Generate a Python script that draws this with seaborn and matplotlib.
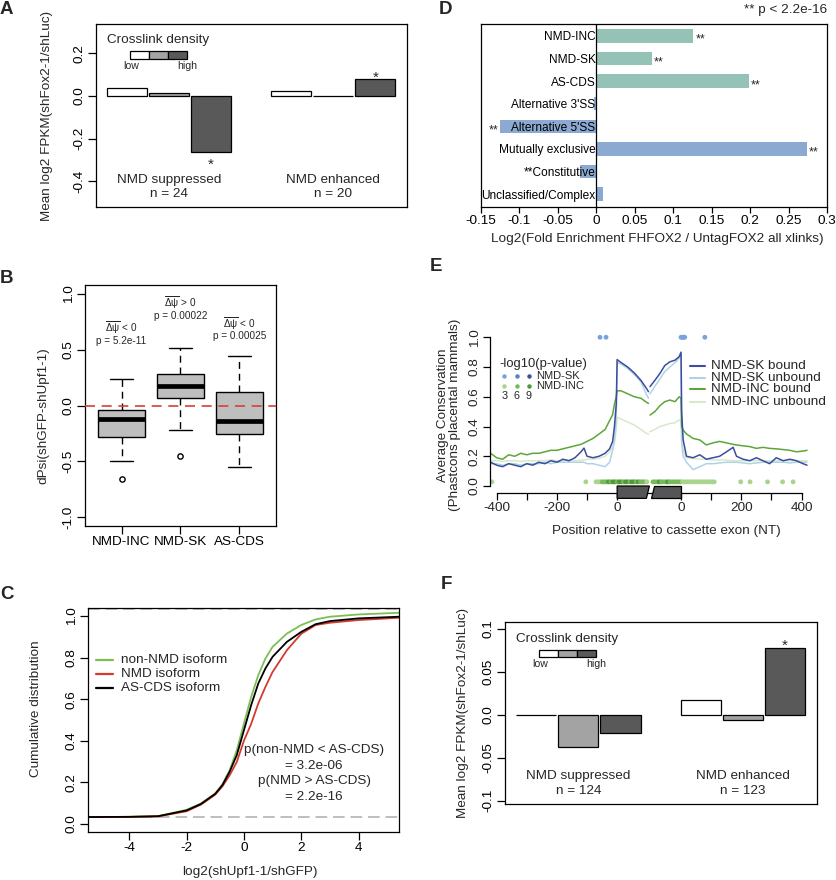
import numpy as np
import pandas as pd
import matplotlib
matplotlib.use("Agg")
import matplotlib.pyplot as plt
import seaborn as sns
from matplotlib.patches import Rectangle, Polygon
from matplotlib.lines import Line2D

# ------------------------------------------------------------------ data
density_levels = ["low", "mid", "high"]
density_colors = ["#ffffff", "#a3a3a3", "#595959"]
nmd_groups = ["NMD suppressed", "NMD enhanced"]

# Panel A
a_n = [24, 20]
a_suppressed = [0.039, 0.0125, -0.2625]
a_enhanced = [0.023, 0.002, 0.078]
a_star = [False, False, True, False, False, True]
a_yticks = [-0.4, -0.2, 0.0, 0.2]
a_yticklabels = ["-0.4", "-0.2", "0.0", "0.2"]

# Panel F
f_n = [124, 123]
f_suppressed = [0.0, -0.038, -0.0213]
f_enhanced = [0.0174, -0.0062, 0.078]
f_star = [False, False, False, False, False, True]
f_yticks = [-0.1, -0.05, 0.0, 0.05, 0.1]
f_yticklabels = ["-0.1", "-0.05", "0.0", "0.05", "0.1"]

# Panel D
d_categories = ["NMD-INC", "NMD-SK", "AS-CDS", "Alternative 3'SS",
                "Alternative 5'SS", "Mutually exclusive", "**Constitutive",
                "Unclassified/Complex"]
d_values = [0.126, 0.0725, 0.198, -0.0035, -0.125, 0.274, -0.0217, 0.0087]
d_class = ["NMD", "NMD", "NMD", "AS", "AS", "AS", "AS", "AS"]
d_star = [True, True, True, False, True, True, False, False]
d_xticks = [-0.15, -0.1, -0.05, 0, 0.05, 0.1, 0.15, 0.2, 0.25, 0.3]
d_xticklabels = ["-0.15", "-0.1", "-0.05", "0", "0.05", "0.1", "0.15", "0.2", "0.25", "0.3"]

# Panel B (box statistics)
b_categories = ["NMD-INC", "NMD-SK", "AS-CDS"]
b_whislo = [-0.50, -0.223, -0.552]
b_q1 = [-0.283, 0.067, -0.253]
b_med = [-0.121, 0.172, -0.142]
b_q3 = [-0.04, 0.28, 0.124]
b_whishi = [0.238, 0.519, 0.447]
b_outliers = [[-0.659], [-0.45], []]
b_direction = ["<", ">", "<"]
b_pvalues = ["5.2e-11", "0.00022", "0.00025"]
b_yticks = [-1.0, -0.5, 0.0, 0.5, 1.0]
b_yticklabels = ["-1.0", "-0.5", "0.0", "0.5", "1.0"]

# Panel C (cumulative distributions)
c_x = [-5.44, -4, -3, -2, -1.5, -1, -0.75, -0.5, -0.25, 0, 0.25, 0.5, 0.75,
       1, 1.5, 2, 2.5, 3, 4, 5.41]
c_non_nmd = [0.032, 0.033, 0.036, 0.067, 0.097, 0.146, 0.19, 0.257, 0.354, 0.482,
             0.61, 0.715, 0.796, 0.852, 0.916, 0.957, 0.984, 0.997, 1.008, 1.016]
c_nmd = [0.032, 0.033, 0.035, 0.06, 0.092, 0.14, 0.18, 0.233, 0.297, 0.40,
         0.48, 0.579, 0.659, 0.731, 0.836, 0.915, 0.957, 0.968, 0.981, 0.992]
c_as_cds = [0.032, 0.033, 0.036, 0.064, 0.095, 0.144, 0.186, 0.25, 0.33, 0.45,
            0.57, 0.675, 0.748, 0.804, 0.876, 0.924, 0.961, 0.976, 0.989, 0.997]
c_series = ["non-NMD isoform", "NMD isoform", "AS-CDS isoform"]
c_colors = ["#7dbf55", "#d33a2f", "#000000"]
c_ref_lines = [0.032, 1.034]
c_xticks = [-4, -2, 0, 2, 4]
c_yticks = [0.0, 0.2, 0.4, 0.6, 0.8, 1.0]
c_yticklabels = ["0.0", "0.2", "0.4", "0.6", "0.8", "1.0"]

# Panel E (conservation profiles; plotted x: upstream -420..0, exon 0..212, downstream 212+pos)
EXON_LEN = 212
e_pos_seg1 = [-420, -400, -380, -360, -340, -320, -300, -280, -260, -240, -220, -200,
              -180, -160, -140, -120, -110, -100, -80, -60, -40, -25, -15, -9, -3, 0,
              13, 35, 57, 79, 96, 104]
e_pos_seg2 = [109, 125, 142, 158, 175, 192, 206, 212, 214, 219, 230, 252, 274, 296, 318,
              340, 363, 385, 396, 418, 440, 462, 484, 506, 528, 551, 573, 595, 617, 630]
e_sk_bound_1 = [0.16, 0.14, 0.13, 0.15, 0.14, 0.13, 0.15, 0.14, 0.16, 0.15, 0.17, 0.16,
                0.18, 0.17, 0.19, 0.23, 0.255, 0.20, 0.19, 0.20, 0.22, 0.25, 0.30, 0.40,
                0.55, 0.85, 0.83, 0.80, 0.76, 0.71, 0.66, 0.634]
e_sk_bound_2 = [0.668, 0.71, 0.757, 0.81, 0.835, 0.846, 0.87, 0.90, 0.50, 0.31, 0.20, 0.19,
                0.21, 0.18, 0.19, 0.20, 0.23, 0.26, 0.20, 0.18, 0.17, 0.19, 0.17, 0.15,
                0.19, 0.17, 0.18, 0.17, 0.15, 0.14]
e_sk_unbound_1 = [0.15, 0.15, 0.14, 0.15, 0.15, 0.14, 0.15, 0.15, 0.15, 0.16, 0.15, 0.16,
                  0.16, 0.16, 0.16, 0.16, 0.16, 0.15, 0.15, 0.14, 0.13, 0.16, 0.24, 0.31,
                  0.45, 0.83, 0.82, 0.79, 0.75, 0.70, 0.62, 0.59]
e_sk_unbound_2 = [0.62, 0.67, 0.72, 0.77, 0.80, 0.83, 0.86, 0.87, 0.30, 0.20, 0.16, 0.11,
                  0.13, 0.15, 0.15, 0.155, 0.16, 0.16, 0.16, 0.155, 0.15, 0.155, 0.16, 0.16,
                  0.16, 0.16, 0.155, 0.16, 0.16, 0.16]
e_inc_bound_1 = [0.22, 0.19, 0.18, 0.21, 0.20, 0.22, 0.21, 0.22, 0.22, 0.23, 0.24, 0.24,
                 0.25, 0.26, 0.27, 0.28, 0.29, 0.30, 0.32, 0.35, 0.38, 0.44, 0.48, 0.55,
                 0.60, 0.64, 0.64, 0.62, 0.60, 0.59, 0.565, 0.555]
e_inc_bound_2 = [0.477, 0.50, 0.54, 0.567, 0.578, 0.567, 0.60, 0.59, 0.40, 0.376, 0.35, 0.32,
                 0.31, 0.276, 0.29, 0.30, 0.29, 0.28, 0.276, 0.27, 0.265, 0.253, 0.26, 0.253,
                 0.25, 0.245, 0.24, 0.23, 0.235, 0.24]
e_inc_unbound_1 = [0.17, 0.17, 0.165, 0.17, 0.17, 0.165, 0.17, 0.17, 0.17, 0.17, 0.175, 0.17,
                   0.17, 0.175, 0.17, 0.175, 0.175, 0.18, 0.18, 0.186, 0.20, 0.23, 0.26, 0.29,
                   0.38, 0.46, 0.45, 0.43, 0.41, 0.38, 0.355, 0.35]
e_inc_unbound_2 = [0.365, 0.38, 0.40, 0.41, 0.42, 0.425, 0.445, 0.44, 0.31, 0.24, 0.19, 0.185,
                   0.18, 0.18, 0.175, 0.175, 0.175, 0.17, 0.17, 0.17, 0.17, 0.17, 0.17, 0.17,
                   0.17, 0.17, 0.17, 0.17, 0.17, 0.17]
e_series = ["NMD-SK bound", "NMD-SK unbound", "NMD-INC bound", "NMD-INC unbound"]
e_colors = ["#3c4c9e", "#aed3e8", "#5ea53a", "#d9e8c8"]

# significance dots (-log10 p level 3/6/9)
e_sig_sk_pos = [-57, -37, 212, 216, 220, 224, 291]
e_sig_sk_level = [3, 3, 3, 3, 3, 3, 3]
e_sig_inc_pos = [-416, -104, -70, -63, -56, -49, -42, -35, -28, -21, -14, -7, 0, 7, 14, 21,
                 28, 35, 42, 49, 56, 63, 70, 77, 84, 91, 98, 119, 126, 133, 140, 147, 154,
                 161, 168, 175, 182, 189, 196, 203, 210, 217, 224, 231, 238, 245, 252, 259,
                 266, 273, 280, 287, 294, 301, 308, 315, 322, 410, 441, 499, 549, 584]
e_sig_inc_level = [3, 3, 3, 3, 3, 6, 6, 6, 9, 6, 9, 9, 6, 9, 9, 6, 9, 9, 6, 9, 9, 6, 9, 6,
                   6, 6, 3, 6, 6, 6, 9, 6, 6, 6, 9, 6, 6, 6, 6, 6, 6, 3, 3, 3, 3, 3, 3, 3,
                   3, 3, 3, 3, 3, 3, 3, 3, 3, 3, 3, 3, 3, 3]
sig_levels = [3, 6, 9]
sig_sk_colors = ["#78a2db", "#5b7ec4", "#3e5296"]
sig_inc_colors = ["#a8d48c", "#79b95b", "#4c9a37"]
e_xticks_labels = ["-400", "", "-200", "", "0", "0", "", "200", "", "400"]
e_yticks = [0.0, 0.2, 0.4, 0.6, 0.8, 1.0]
e_yticklabels = ["0.0", "0.2", "0.4", "0.6", "0.8", "1.0"]

# ------------------------------------------------------------------ style
sns.set_style("ticks")
plt.rcParams["font.family"] = ["Liberation Sans", "DejaVu Sans"]
plt.rcParams["mathtext.fontset"] = "custom"
plt.rcParams["mathtext.rm"] = "Liberation Sans"
plt.rcParams["mathtext.it"] = "Liberation Sans"
plt.rcParams["axes.linewidth"] = 0.9
plt.rcParams["axes.edgecolor"] = "black"

W, H = 837, 880
FS = 9.7
fig = plt.figure(figsize=(W / 100, H / 100), dpi=100)


def rect(l, t, r, b):
    return [l / W, 1 - b / H, (r - l) / W, (b - t) / H]


def fpt(x, y):
    return (x / W, 1 - y / H)


def r_style(ax):
    for s in ax.spines.values():
        s.set_linewidth(0.9)
        s.set_color("black")
        s.set_visible(True)
    ax.tick_params(direction="out", length=6, width=0.9, labelsize=FS, pad=1.5,
                   color="black", labelcolor="black")


def rotate_ylabels(ax):
    for lb in ax.get_yticklabels():
        lb.set_rotation(90)
        lb.set_va("center")
        lb.set_ha("right")


def panel_label(x, y, s):
    fig.text(*fpt(x, y), s, fontsize=13.5, fontweight="bold", ha="left", va="center")


def crosslink_key(l, t):
    fig.text(*fpt(l + 11.5, t + 16.5), "Crosslink density", ha="left", va="center", fontsize=FS)
    x0, y0, w, h = l + 33.5, t + 27.5, 19.2, 7.5
    for k, c in enumerate(density_colors):
        fig.add_artist(Rectangle(fpt(x0 + k * w, y0 + h), w / W, h / H,
                                 transform=fig.transFigure, fc=c, ec="black", lw=0.9))
    fig.text(*fpt(l + 35.5, t + 42), "low", ha="center", va="center", fontsize=7.6)
    fig.text(*fpt(l + 91, t + 42), "high", ha="center", va="center", fontsize=7.6)


def crosslink_panel(box, sup, enh, n, stars, ylim, yticks, yticklabels, text_y, ylabel_x):
    l, t, r, b = box
    ax = fig.add_axes(rect(l, t, r, b))
    df = pd.DataFrame({"group": [nmd_groups[0]] * 3 + [nmd_groups[1]] * 3,
                       "density": density_levels * 2,
                       "value": list(sup) + list(enh)})
    sns.barplot(data=df, x="group", y="value", hue="density", order=nmd_groups,
                hue_order=density_levels, palette=density_colors, width=0.77, gap=0.05,
                edgecolor="black", linewidth=0.9, errorbar=None, legend=False, ax=ax)
    r_style(ax)
    ax.set_xlim(-0.445, 1.45)
    ax.set_ylim(*ylim)
    ax.set_xticks([])
    ax.set_xlabel("")
    ax.set_yticks(yticks, yticklabels)
    rotate_ylabels(ax)
    ax.set_ylabel("Mean log2 FPKM(shFox2-1/shLuc)", fontsize=FS, va="center")
    ax.yaxis.set_label_coords(ylabel_x, 0.5)
    patches = sorted(ax.patches, key=lambda p: p.get_x())
    for p, s in zip(patches, stars):
        if not s:
            continue
        cx = p.get_x() + p.get_width() / 2
        h = p.get_y() + p.get_height()
        off = -1.5 if p.get_height() >= 0 else -12
        ax.annotate("*", (cx, h), xytext=(0, off), textcoords="offset points",
                    ha="center", va="baseline", fontsize=11)
    for i, g in enumerate(nmd_groups):
        ax.text(i, text_y[0], g, ha="center", va="center", fontsize=FS)
        ax.text(i, text_y[1], f"n = {n[i]}", ha="center", va="center", fontsize=FS)
    crosslink_key(l, t)
    return ax


# ------------------------------------------------------------------ Panel A
crosslink_panel((96, 24, 407, 207), a_suppressed, a_enhanced, a_n, a_star,
                (-0.521, 0.338), a_yticks, a_yticklabels, (-0.394, -0.46), -0.158)
panel_label(0, 9, "A")

# ------------------------------------------------------------------ Panel F
crosslink_panel((505, 622, 817, 804), f_suppressed, f_enhanced, f_n, f_star,
                (-0.104, 0.108), f_yticks, f_yticklabels, (-0.0711, -0.0886), -0.135)
panel_label(441, 584, "F")

# ------------------------------------------------------------------ Panel D
axD = fig.add_axes(rect(481, 24, 827, 207))
dfD = pd.DataFrame({"cat": d_categories, "val": d_values, "cls": d_class})
sns.barplot(data=dfD, x="val", y="cat", hue="cls", dodge=False, orient="h",
            palette={"NMD": "#8dcabb", "AS": "#80a7dc"}, width=0.59, linewidth=0,
            errorbar=None, legend=False, ax=axD)
r_style(axD)
axD.set_axisbelow(False)
axD.set_xlim(-0.15, 0.3)
axD.set_ylim(7.57, -0.53)
axD.axvline(0, color="black", lw=0.9, zorder=3)
axD.set_xticks(d_xticks, d_xticklabels)
axD.tick_params(axis="x", length=4, pad=2)
axD.tick_params(axis="y", length=0, pad=-82.5, labelsize=8.6)
axD.set_ylabel("")
axD.set_xlabel("Log2(Fold Enrichment FHFOX2 / UntagFOX2 all xlinks)", fontsize=FS, va="center")
axD.xaxis.set_label_coords(0.51, -0.175)
for i, (v, s) in enumerate(zip(d_values, d_star)):
    if s:
        if v >= 0:
            axD.annotate("**", (v, i), xytext=(1.5, -5.0), textcoords="offset points",
                         ha="left", va="baseline", fontsize=9)
        else:
            axD.annotate("**", (v, i), xytext=(-1.5, -5.0), textcoords="offset points",
                         ha="right", va="baseline", fontsize=9)
axD.text(1.0, 1.077, "** p < 2.2e-16", transform=axD.transAxes, ha="right", va="center",
         fontsize=FS)
panel_label(439, 9, "D")

# ------------------------------------------------------------------ Panel B
axB = fig.add_axes(rect(85, 285, 276, 526))
stats = [dict(med=m, q1=a, q3=c, whislo=lo, whishi=hi, fliers=fl, label=lab)
         for m, a, c, lo, hi, fl, lab in zip(b_med, b_q1, b_q3, b_whislo, b_whishi,
                                             b_outliers, b_categories)]
axB.bxp(stats, positions=[1, 2, 3], widths=0.8, capwidths=0.4, patch_artist=True,
        boxprops=dict(facecolor="#bebebe", edgecolor="black", linewidth=1.0),
        whiskerprops=dict(color="black", linewidth=1.0, linestyle=(0, (5, 3.5))),
        capprops=dict(color="black", linewidth=1.0),
        medianprops=dict(color="black", linewidth=3.4, solid_capstyle="butt"),
        flierprops=dict(marker="o", markerfacecolor="none", markeredgecolor="black",
                        markersize=3.8, markeredgewidth=1.0))
r_style(axB)
axB.axhline(0, color="#d2403a", lw=1.2, ls=(0, (6, 4)), zorder=5)
axB.set_xlim(0.38, 3.62)
axB.set_ylim(-1.08, 1.08)
axB.set_xticks([1, 2, 3], b_categories)
axB.set_yticks(b_yticks, b_yticklabels)
rotate_ylabels(axB)
axB.set_ylabel("dPsi(shGFP-shUpf1-1)", fontsize=FS, va="center")
axB.yaxis.set_label_coords(-0.217, 0.46)
b_txt_y = [(0.70, 0.577), (0.92, 0.805), (0.738, 0.62)]
for i in range(3):
    axB.text(i + 1, b_txt_y[i][0], r"$\overline{\Delta\psi}$" + f" {b_direction[i]} 0",
             ha="center", va="center", fontsize=7.2)
    axB.text(i + 1, b_txt_y[i][1], f"p = {b_pvalues[i]}", ha="center", va="center",
             fontsize=7.2)
panel_label(0, 278.5, "B")

# ------------------------------------------------------------------ Panel C
axC = fig.add_axes(rect(88, 608, 399, 832))
dfC = pd.DataFrame({"x": c_x * 3,
                    "y": c_non_nmd + c_nmd + c_as_cds,
                    "series": [c_series[0]] * len(c_x) + [c_series[1]] * len(c_x)
                    + [c_series[2]] * len(c_x)})
for yv in c_ref_lines:
    axC.axhline(yv, color="#b3b3b3", lw=1.2, ls=(0, (7, 3.5)), zorder=1)
sns.lineplot(data=dfC, x="x", y="y", hue="series", hue_order=c_series,
             palette=c_colors, estimator=None, legend=False, lw=1.3, ax=axC)
r_style(axC)
axC.set_xlim(-5.44, 5.41)
axC.set_ylim(-0.04, 1.039)
axC.set_xticks(c_xticks, [str(v) for v in c_xticks])
axC.set_yticks(c_yticks, c_yticklabels)
rotate_ylabels(axC)
axC.set_xlabel("log2(shUpf1-1/shGFP)", fontsize=FS, va="center")
axC.xaxis.set_label_coords(0.52, -0.179)
axC.set_ylabel("Cumulative distribution", fontsize=FS, va="center")
axC.yaxis.set_label_coords(-0.167, 0.55)
for k, (lab, col) in enumerate(zip(c_series, c_colors)):
    y = 660 + 14 * k
    fig.add_artist(Line2D([96 / W, 113 / W], [1 - y / H, 1 - y / H], color=col, lw=1.6,
                          transform=fig.transFigure))
    fig.text(*fpt(121, y), lab, ha="left", va="center", fontsize=FS)
c_ptext = ["p(non-NMD < AS-CDS)", "= 3.2e-06", "p(NMD > AS-CDS)", "= 2.2e-16"]
for k, (s, yy) in enumerate(zip(c_ptext, [0.354, 0.277, 0.204, 0.128])):
    axC.text(2.45, yy, s, ha="center", va="center", fontsize=FS)
panel_label(0, 594.5, "C")

# ------------------------------------------------------------------ Panel E
axE = fig.add_axes(rect(490, 334.3, 807.6, 493))
series_data = [(e_sk_bound_1, e_sk_bound_2), (e_sk_unbound_1, e_sk_unbound_2),
               (e_inc_bound_1, e_inc_bound_2), (e_inc_unbound_1, e_inc_unbound_2)]
dfE = pd.concat([
    pd.DataFrame({"pos": e_pos_seg1 + e_pos_seg2,
                  "cons": s1 + s2,
                  "series": name,
                  "seg": [1] * len(e_pos_seg1) + [2] * len(e_pos_seg2)})
    for name, (s1, s2) in zip(e_series, series_data)])
draw_order = [e_series[3], e_series[1], e_series[2], e_series[0]]
for name in draw_order:
    sub = dfE[dfE.series == name]
    sns.lineplot(data=sub, x="pos", y="cons", units="seg", estimator=None,
                 color=e_colors[e_series.index(name)], lw=1.1, legend=False, ax=axE)
dfS = pd.DataFrame({"pos": e_sig_sk_pos, "lvl": e_sig_sk_level, "y": 1.0})
sns.scatterplot(data=dfS, x="pos", y="y", hue="lvl", hue_order=sig_levels,
                palette=sig_sk_colors, s=12, linewidth=0, legend=False, clip_on=False, ax=axE)
dfI = pd.DataFrame({"pos": e_sig_inc_pos, "lvl": e_sig_inc_level, "y": 0.028})
sns.scatterplot(data=dfI, x="pos", y="y", hue="lvl", hue_order=sig_levels,
                palette=sig_inc_colors, s=12, linewidth=0, legend=False, ax=axE)
axE.set_xlim(-422, 632)
axE.set_ylim(-0.047, 1.02)
for s in ["top", "right"]:
    axE.spines[s].set_visible(False)
for s in ["left", "bottom"]:
    axE.spines[s].set_linewidth(0.9)
    axE.spines[s].set_color("black")
axE.spines["left"].set_bounds(0, 1)
axE.spines["bottom"].set_bounds(-400, EXON_LEN + 400)
axE.tick_params(direction="out", length=5, width=0.9, labelsize=FS, pad=1.5, color="black")
axE.set_xticks([-400, -300, -200, -100, 0, EXON_LEN, EXON_LEN + 100, EXON_LEN + 200,
                EXON_LEN + 300, EXON_LEN + 400], e_xticks_labels)
axE.set_yticks(e_yticks, e_yticklabels)
rotate_ylabels(axE)
for poly in ([(0, 0), (107, 0), (97, -0.083), (0, -0.083)],
             [(123, 0), (EXON_LEN, 0), (EXON_LEN, -0.083), (113, -0.083)]):
    axE.add_patch(Polygon(poly, closed=True, fc="#555555", ec="black", lw=0.9,
                          clip_on=False, zorder=6))
axE.set_xlabel("Position relative to cassette exon (NT)", fontsize=FS, va="center")
axE.xaxis.set_label_coords(0.554, -0.239)
axE.set_ylabel("Average Conservation\n(Phastcons placental mammals)", fontsize=FS,
               va="center", linespacing=1.0)
axE.yaxis.set_label_coords(-0.128, 0.49)
for k, (lab, col) in enumerate(zip(e_series, e_colors)):
    y = [365.7, 377.7, 389.3, 401.7][k]
    fig.add_artist(Line2D([690 / W, 705 / W], [1 - y / H, 1 - y / H], color=col, lw=1.5,
                          transform=fig.transFigure))
    fig.text(*fpt(711.5, y), lab, ha="left", va="center", fontsize=FS)
fig.text(*fpt(499, 363.5), "-log10(p-value)", ha="left", va="center", fontsize=9.4)
for k in range(3):
    xk = [504.3, 516.7, 529][k]
    fig.add_artist(Line2D([xk / W], [1 - 376.5 / H], marker="o", ms=3.2, mew=0,
                          color=sig_sk_colors[k], transform=fig.transFigure))
    fig.add_artist(Line2D([xk / W], [1 - 386 / H], marker="o", ms=3.2, mew=0,
                          color=sig_inc_colors[k], transform=fig.transFigure))
    fig.text(*fpt(xk, 395.5), str(sig_levels[k]), ha="center", va="center", fontsize=7.8)
fig.text(*fpt(536.5, 376.2), "NMD-SK", ha="left", va="center", fontsize=8.0)
fig.text(*fpt(536.5, 386.4), "NMD-INC", ha="left", va="center", fontsize=8.0)
panel_label(430, 266.5, "E")

fig.savefig("out.png", dpi=100)
